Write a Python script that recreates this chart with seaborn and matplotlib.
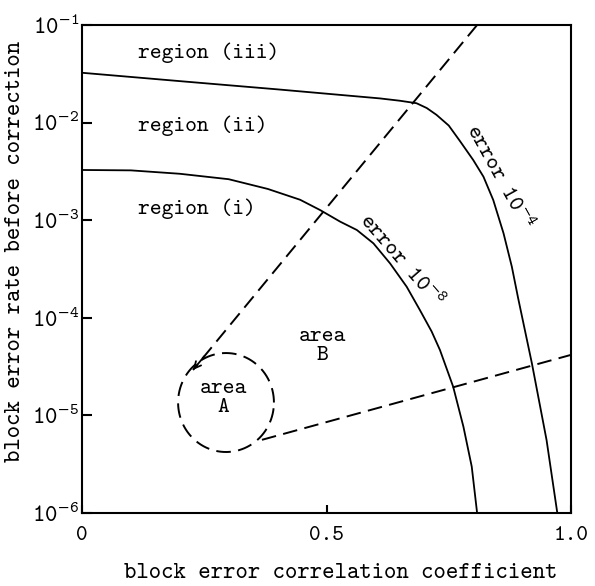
import numpy as np
import matplotlib
matplotlib.use("Agg")
import matplotlib.pyplot as plt
from matplotlib.ticker import FixedLocator, FixedFormatter, NullLocator
import pandas as pd
import seaborn as sns

sns.set_theme(style="ticks")
plt.rcParams["font.family"] = ["cmtt10", "Liberation Mono", "DejaVu Sans"]
plt.rcParams["mathtext.fontset"] = "custom"
plt.rcParams["mathtext.rm"] = "cmtt10"
plt.rcParams["mathtext.it"] = "cmtt10"
plt.rcParams["mathtext.bf"] = "cmtt10"
plt.rcParams["axes.unicode_minus"] = False

# Boundary for a residual error of 1e-4
corr_e4 = [0.0, 0.2, 0.4, 0.609, 0.65, 0.684, 0.705, 0.725, 0.75, 0.773,
           0.800, 0.821, 0.841, 0.862, 0.879, 0.892, 0.920, 0.950, 0.972]
rate_e4 = [3.24e-2, 2.66e-2, 2.19e-2, 1.77e-2, 1.675e-2, 1.58e-2, 1.41e-2,
           1.20e-2, 9.33e-3, 6.46e-3, 4.14e-3, 2.79e-3, 1.61e-3, 7.35e-4,
           3.34e-4, 1.58e-4, 3.42e-5, 5.6e-6, 1.0e-6]

# Boundary for a residual error of 1e-8
corr_e8 = [0.0, 0.1, 0.2, 0.3, 0.38, 0.446, 0.487, 0.528, 0.562, 0.596,
           0.630, 0.664, 0.691, 0.715, 0.732, 0.759, 0.780, 0.797, 0.808]
rate_e8 = [3.27e-3, 3.24e-3, 2.99e-3, 2.63e-3, 2.09e-3, 1.62e-3, 1.27e-3,
           9.66e-4, 7.94e-4, 5.79e-4, 3.61e-4, 2.08e-4, 1.20e-4, 7.24e-5,
           4.68e-5, 1.97e-5, 7.66e-6, 2.99e-6, 1.0e-6]

# Dashed limits of area B
corr_b_upper = [0.808, 0.227]
rate_b_upper = [1.0e-1, 2.92e-5]
corr_b_lower = [0.368, 1.0]
rate_b_lower = [5.62e-6, 4.17e-5]

# Area A outline (ellipse in correlation / log-rate space)
area_a_corr = 0.2945
area_a_rate = 1.355e-5
area_a_half_width = 0.098
area_a_half_height_decades = 0.507

ytick_exponents = [-6, -5, -4, -3, -2, -1]
xtick_values = [0.0, 0.5, 1.0]
xtick_labels = ["0", "0.5", "1.0"]

fig = plt.figure(figsize=(5.95, 5.86), dpi=100)
ax = fig.add_axes([82 / 595, 1 - 513 / 586, 489 / 595, 488 / 586])
ax.set_facecolor("white")
ax.set_yscale("log")

for cx, ry in ((corr_e4, rate_e4), (corr_e8, rate_e8)):
    df = pd.DataFrame({"corr": cx, "rate": ry})
    sns.lineplot(data=df, x="corr", y="rate", sort=False, estimator=None,
                 color="black", linewidth=1.3, ax=ax)

dash = (7.5, 3.8)
ax.plot(corr_b_upper, rate_b_upper, color="black", lw=1.4, dashes=dash)
ax.plot(corr_b_lower, rate_b_lower, color="black", lw=1.4, dashes=dash)

# small arrowhead where the upper dashed limit meets area A
tip = (corr_b_upper[1], rate_b_upper[1])
frac = 0.96
back_corr = corr_b_upper[0] + frac * (corr_b_upper[1] - corr_b_upper[0])
back_rate = 10 ** (np.log10(rate_b_upper[0]) + frac *
                   (np.log10(rate_b_upper[1]) - np.log10(rate_b_upper[0])))
ax.annotate("", xy=tip, xytext=(back_corr, back_rate),
            arrowprops=dict(arrowstyle="->", color="black", lw=1.3,
                            mutation_scale=12, shrinkA=0, shrinkB=0))

t = np.linspace(0, 2 * np.pi, 300)
ax.plot(area_a_corr + area_a_half_width * np.cos(t),
        area_a_rate * 10 ** (area_a_half_height_decades * np.sin(t)),
        color="black", lw=1.4, dashes=dash)

ax.set_xlim(0, 1.0)
ax.set_ylim(1e-6, 1e-1)

ax.xaxis.set_major_locator(FixedLocator(xtick_values))
ax.xaxis.set_major_formatter(FixedFormatter(xtick_labels))
ax.yaxis.set_major_locator(FixedLocator([10.0 ** e for e in ytick_exponents]))
ax.yaxis.set_major_formatter(FixedFormatter(
    [r"$\mathregular{10^{%d}}$" % e for e in ytick_exponents]))
ax.yaxis.set_minor_locator(NullLocator())
ax.xaxis.set_minor_locator(NullLocator())

ax.tick_params(axis="y", direction="in", length=7, width=1.5, pad=2,
               labelsize=17, colors="black")
ax.tick_params(axis="x", direction="in", length=6, width=1.5, pad=9,
               labelsize=16, colors="black")
for s in ax.spines.values():
    s.set_linewidth(1.5)
    s.set_color("black")

ax.set_xlabel("block error correlation coefficient", fontsize=17,
              color="black", va="center")
ax.set_ylabel("block error rate before correction", fontsize=17,
              color="black", va="center")
ax.xaxis.set_label_coords(0.528, -0.123)
ax.yaxis.set_label_coords(-0.137, 0.537)

txt = dict(fontsize=16.2, color="black")
ax.text(0.1145, 10 ** -1.287, "region (iii)", ha="left", va="center", **txt)
ax.text(0.1145, 10 ** -2.035, "region (ii)", ha="left", va="center", **txt)
ax.text(0.1145, 10 ** -2.885, "region (i)", ha="left", va="center", **txt)
ax.text(0.854, 10 ** -2.557, r"error $\mathregular{10^{-4}}$", rotation=-61,
        rotation_mode="anchor", ha="center", va="center", **txt)
ax.text(0.654, 10 ** -3.408, r"error $\mathregular{10^{-8}}$", rotation=-49,
        rotation_mode="anchor", ha="center", va="center", **txt)
ax.text(0.492, 10 ** -4.284, "area\nB", ha="center", va="center",
        linespacing=1.0, **txt)
ax.text(0.289, 10 ** -4.817, "area\nA", ha="center", va="center",
        linespacing=1.0, **txt)

fig.savefig("out.png", dpi=100, facecolor="white")
